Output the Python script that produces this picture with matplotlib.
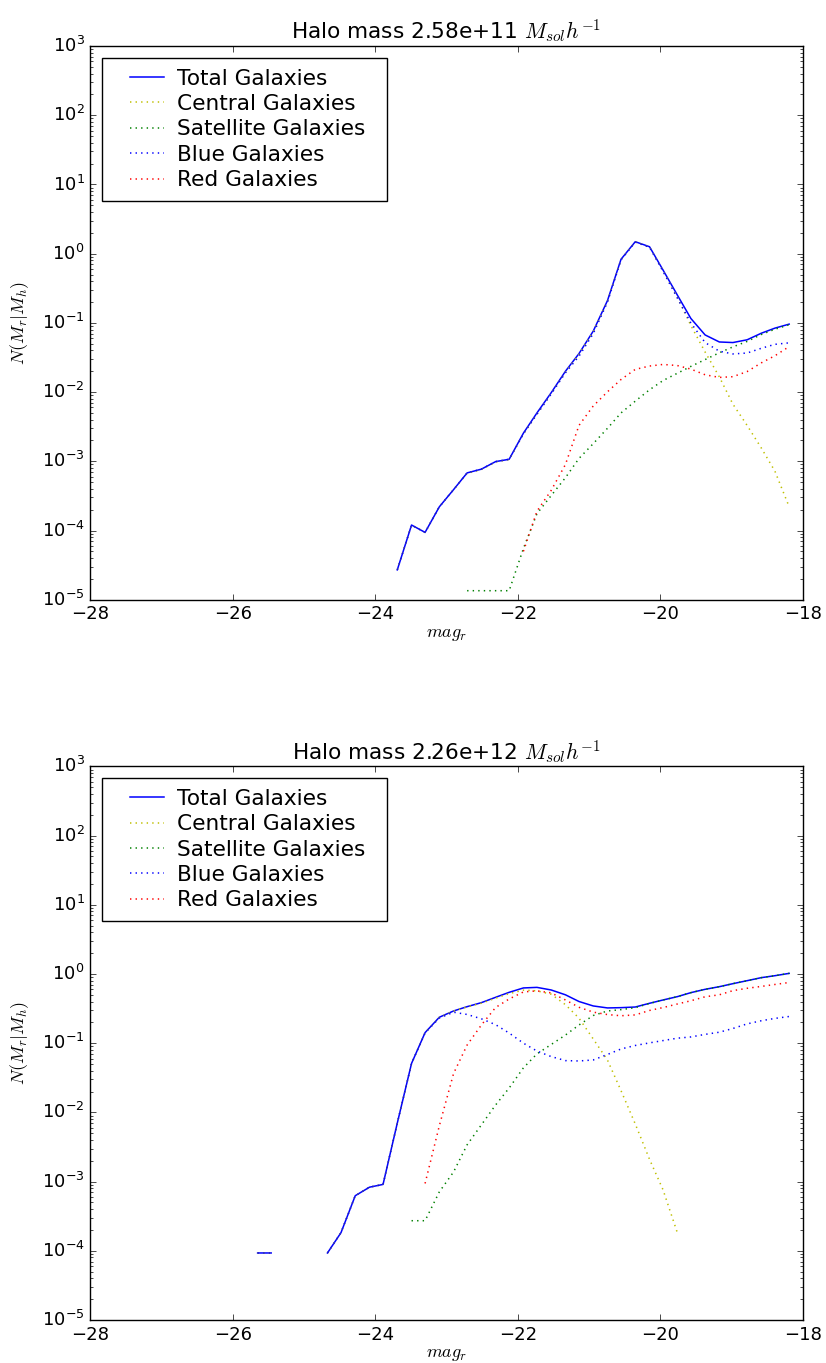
import numpy as np
import matplotlib
matplotlib.use("Agg")
import matplotlib.pyplot as plt
from matplotlib.lines import Line2D
from matplotlib.legend_handler import HandlerLine2D

nan = np.nan

# r-band magnitude bin centres shared by both halo mass bins
mag_r = [-25.65, -25.46, -25.26, -25.06, -24.87, -24.67, -24.48, -24.28, -24.08, -23.89,
         -23.69, -23.49, -23.30, -23.10, -22.90, -22.71, -22.51, -22.31, -22.12, -21.92,
         -21.73, -21.53, -21.33, -21.14, -20.94, -20.74, -20.55, -20.35, -20.15, -19.96,
         -19.76, -19.57, -19.37, -19.17, -18.98, -18.78, -18.58, -18.39, -18.19]

# halo mass 2.58e+11
low_total = [nan] * 10 + [2.7e-5, 1.2e-4, 9.4e-5, 2.2e-4, 3.9e-4, 6.8e-4, 7.7e-4, 9.9e-4, 1.07e-3, 2.55e-3,
                          5.0e-3, 9.8e-3, 0.020, 0.036, 0.076, 0.21, 0.83, 1.49, 1.26, 0.58,
                          0.253, 0.116, 0.067, 0.053, 0.052, 0.057, 0.071, 0.084, 0.096]
low_central = [nan] * 10 + [2.7e-5, 1.2e-4, 9.4e-5, 2.2e-4, 3.9e-4, 6.7e-4, 7.6e-4, 9.8e-4, 1.06e-3, 2.49e-3,
                            4.8e-3, 9.5e-3, 0.0194, 0.035, 0.074, 0.207, 0.825, 1.48, 1.25, 0.565,
                            0.234, 0.092, 0.038, 0.0166, 6.7e-3, 3.3e-3, 1.55e-3, 7.2e-4, 2.2e-4]
low_satellite = [nan] * 15 + [1.35e-5, 1.35e-5, 1.35e-5, 1.35e-5, 5.5e-5,
                              1.75e-4, 3.2e-4, 5.8e-4, 1.1e-3, 1.8e-3, 3.0e-3, 5.0e-3, 7.4e-3, 0.0108, 0.0147,
                              0.0187, 0.0235, 0.0295, 0.037, 0.045, 0.054, 0.068, 0.081, 0.094]
low_blue = [nan] * 10 + [2.7e-5, 1.2e-4, 9.4e-5, 2.2e-4, 3.9e-4, 6.8e-4, 7.7e-4, 9.9e-4, 1.07e-3, 2.5e-3,
                         4.8e-3, 9.4e-3, 0.019, 0.033, 0.070, 0.20, 0.815, 1.47, 1.24, 0.555,
                         0.229, 0.100, 0.052, 0.039, 0.0356, 0.0367, 0.0430, 0.0490, 0.0515]
low_red = [nan] * 19 + [5.0e-5,
                        1.9e-4, 3.8e-4, 9.0e-4, 3.3e-3, 6.3e-3, 0.0101, 0.0152, 0.0213, 0.0238, 0.0251,
                        0.0242, 0.0215, 0.0178, 0.0163, 0.0167, 0.0198, 0.0265, 0.0335, 0.0455]

# halo mass 2.26e+12
high_total = [9.3e-5, 9.3e-5, nan, nan, nan, 9.3e-5, 1.83e-4, 6.25e-4, 8.3e-4, 9.1e-4,
              7.0e-3, 0.051, 0.142, 0.237, 0.292, 0.337, 0.385, 0.46, 0.543, 0.628,
              0.64, 0.587, 0.50, 0.40, 0.345, 0.323, 0.326, 0.333, 0.377, 0.421,
              0.47, 0.537, 0.60, 0.655, 0.724, 0.80, 0.885, 0.944, 1.02]
high_central = [9.3e-5, 9.3e-5, nan, nan, nan, 9.3e-5, 1.83e-4, 6.25e-4, 8.3e-4, 9.1e-4,
                7.0e-3, 0.0507, 0.1417, 0.236, 0.29, 0.334, 0.378, 0.447, 0.52, 0.584,
                0.57, 0.51, 0.36, 0.23, 0.115, 0.057, 0.0206, 6.8e-3, 2.1e-3, 7.6e-4,
                1.83e-4] + [nan] * 8
high_satellite = [nan] * 11 + [2.72e-4, 2.72e-4, 7.1e-4, 1.38e-3, 3.4e-3, 6.6e-3, 0.0128, 0.0225, 0.044,
                               0.070, 0.0957, 0.131, 0.183, 0.251, 0.292, 0.305, 0.326, 0.375, 0.42,
                               0.47, 0.537, 0.60, 0.655, 0.724, 0.80, 0.885, 0.944, 1.02]
high_blue = [9.3e-5, 9.3e-5, nan, nan, nan, 9.3e-5, 1.83e-4, 6.25e-4, 8.3e-4, 9.1e-4,
             7.0e-3, 0.051, 0.141, 0.231, 0.28, 0.26, 0.225, 0.185, 0.14, 0.10,
             0.077, 0.064, 0.056, 0.0553, 0.0572, 0.0687, 0.0824, 0.0926, 0.101, 0.109,
             0.118, 0.123, 0.134, 0.144, 0.163, 0.19, 0.211, 0.228, 0.243]
high_red = [nan] * 12 + [9.4e-4, 6.4e-3, 0.0365, 0.094, 0.183, 0.328, 0.435, 0.55,
                         0.57, 0.533, 0.421, 0.33, 0.281, 0.259, 0.249, 0.256, 0.297, 0.327,
                         0.368, 0.41, 0.468, 0.50, 0.574, 0.621, 0.661, 0.705, 0.753]

halo_masses = ["2.58e+11", "2.26e+12"]


class InsetLineHandler(HandlerLine2D):
    """Legend line sample that leaves some space before the stroke."""
    def create_artists(self, legend, orig_handle, xdescent, ydescent,
                       width, height, fontsize, trans):
        x0 = -xdescent + 0.8 * fontsize
        x1 = -xdescent + width
        y = (height - ydescent) / 2.0
        line = Line2D([x0, x1], [y, y])
        self.update_prop(line, orig_handle, legend)
        line.set_transform(trans)
        return [line]


def plot_clf(ax, mass, total, central, satellite, blue, red):
    ax.plot(mag_r, total, 'b-', label='Total Galaxies')
    ax.plot(mag_r, central, 'y:', label='Central Galaxies')
    ax.plot(mag_r, satellite, 'g:', label='Satellite Galaxies')
    ax.plot(mag_r, blue, 'b:', label='Blue Galaxies')
    ax.plot(mag_r, red, 'r:', label='Red Galaxies')
    ax.set_yscale('log')
    ax.set_xlim(-28, -18)
    ax.set_ylim(1e-5, 1e3)
    ax.set_title('Halo mass %s $M_{sol}h^{-1}$' % mass)
    ax.set_xlabel('$mag_r$', labelpad=1)
    ax.set_ylabel('$N(M_r|M_h)$', labelpad=8)
    ax.legend(loc='upper left', bbox_to_anchor=(0.017, 0.0, 0.399, 0.979),
              mode='expand', borderaxespad=0, borderpad=0.5, labelspacing=0.25,
              handlelength=2.35, handletextpad=0.62,
              handler_map={Line2D: InsetLineHandler()})


plt.style.use('classic')
plt.rcParams['font.size'] = 13
plt.rcParams['lines.linewidth'] = 1.1
fig = plt.figure(figsize=(8.26, 13.63), dpi=100, facecolor='white')
ax1 = fig.add_axes([0.1092, 0.5600, 0.8626, 0.4062])
ax2 = fig.add_axes([0.1092, 0.03155, 0.8626, 0.4062])

plot_clf(ax1, halo_masses[0], low_total, low_central, low_satellite, low_blue, low_red)
plot_clf(ax2, halo_masses[1], high_total, high_central, high_satellite, high_blue, high_red)

fig.savefig('out.png', dpi=100, facecolor='white')
